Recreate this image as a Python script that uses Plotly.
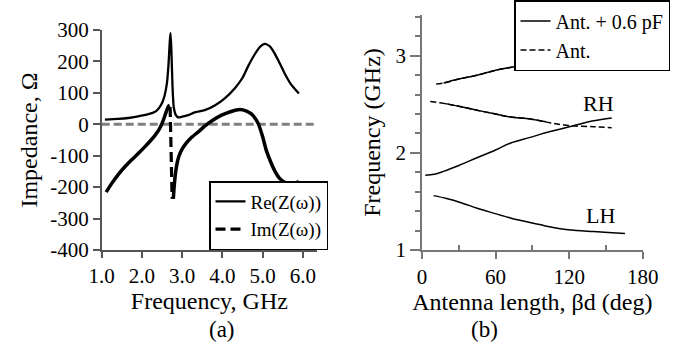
import plotly.graph_objects as go

# ---------------- Panel (a) data ----------------
re_freq = [1.08, 1.40, 1.66, 1.90, 2.16, 2.30, 2.40, 2.50, 2.56, 2.62, 2.66, 2.69, 2.71, 2.73,
           2.76, 2.79, 2.84, 2.90, 3.00, 3.15, 3.31, 3.56, 3.81, 4.05, 4.31, 4.50, 4.64, 4.80,
           4.93, 5.05, 5.18, 5.30, 5.42, 5.55, 5.70, 5.90]
re_z = [15, 17, 20, 25, 32, 38, 48, 68, 90, 130, 190, 260, 291, 240,
        120, 55, 30, 22, 24, 29, 38, 45, 60, 82, 115, 148, 185, 222,
        246, 256, 248, 225, 195, 161, 128, 98]

im_freq_left = [1.11, 1.25, 1.41, 1.57, 1.74, 1.90, 2.07, 2.20, 2.32, 2.42, 2.49, 2.55, 2.61, 2.66, 2.69]
im_z_left = [-216, -188, -160, -136, -114, -94, -72, -54, -36, -18, 0, 20, 42, 58, 60]

im_freq_jump = [2.70, 2.72, 2.75]
im_z_jump = [55, -100, -237]

im_freq_right = [2.78, 2.80, 2.83, 2.86, 2.91, 2.98, 3.10, 3.23, 3.40, 3.56, 3.75, 3.98, 4.20,
                 4.43, 4.60, 4.72, 4.82, 4.89, 5.00, 5.09, 5.20, 5.30, 5.42, 5.55, 5.68, 5.80, 5.90]
im_z_right = [-237, -200, -160, -133, -105, -83, -60, -42, -24, -6, 12, 29, 40,
              47, 42, 33, 18, 2, -40, -83, -120, -148, -172, -185, -189, -187, -182]

a_xticks = [1, 2, 3, 4, 5, 6]
a_xlabels = ["1.0", "2.0", "3.0", "4.0", "5.0", "6.0"]
a_yticks = [-400, -300, -200, -100, 0, 100, 200, 300]
a_ylabels = ["-400", "-300", "-200", "-100", "0", "100", "200", "300"]

# ---------------- Panel (b) data ----------------
ant_top_deg = [11.6, 17.6, 30, 44.8, 60, 71.9, 88.2, 104.5, 123.5, 140, 160]
ant_top_ghz = [2.71, 2.72, 2.76, 2.80, 2.85, 2.88, 2.92, 2.97, 3.00, 3.02, 3.03]
ant_desc_deg = [6.7, 17.6, 30, 44.8, 60, 71.9, 88.2, 104.5, 120.8, 140, 154.7]
ant_desc_ghz = [2.53, 2.51, 2.48, 2.44, 2.40, 2.37, 2.35, 2.31, 2.28, 2.27, 2.26]

cap_top_deg = [17.6, 30, 44.8, 60, 71.9, 88.2, 104.5, 118]
cap_top_ghz = [2.72, 2.76, 2.80, 2.85, 2.88, 2.92, 2.97, 2.99]
cap_desc_deg = [17.6, 30, 44.8, 60, 71.9, 88.2, 101]
cap_desc_ghz = [2.51, 2.48, 2.44, 2.40, 2.37, 2.35, 2.32]
rh_deg = [2.7, 10, 17.6, 30, 44.8, 60, 71.9, 88.2, 104.5, 123.5, 140, 154.7]
rh_ghz = [1.77, 1.78, 1.81, 1.87, 1.95, 2.03, 2.10, 2.16, 2.22, 2.28, 2.33, 2.36]
lh_deg = [9.5, 20, 31.2, 45, 58.3, 72, 85.5, 100, 112.6, 126, 139.7, 152, 165.5]
lh_ghz = [1.56, 1.53, 1.49, 1.43, 1.38, 1.33, 1.29, 1.25, 1.22, 1.20, 1.19, 1.18, 1.17]

FONT = "Liberation Serif"
W, H = 689, 351

fig = go.Figure()

# Panel (a)
fig.add_trace(go.Scatter(x=re_freq, y=re_z, mode="lines", name="Re(Z(ω))",
                         line=dict(color="black", width=2.3, shape="spline", smoothing=0.6),
                         xaxis="x", yaxis="y", legend="legend"))
fig.add_trace(go.Scatter(x=im_freq_jump, y=im_z_jump, mode="lines", name="Im(Z(ω))",
                         line=dict(color="black", width=3.2, dash="10px,5px"),
                         xaxis="x", yaxis="y", legend="legend"))
fig.add_trace(go.Scatter(x=im_freq_left, y=im_z_left, mode="lines", showlegend=False,
                         line=dict(color="black", width=3.5, shape="spline", smoothing=0.6),
                         xaxis="x", yaxis="y"))
fig.add_trace(go.Scatter(x=im_freq_right, y=im_z_right, mode="lines", showlegend=False,
                         line=dict(color="black", width=3.5, shape="spline", smoothing=0.6),
                         xaxis="x", yaxis="y"))

# Panel (b)
fig.add_trace(go.Scatter(x=ant_top_deg, y=ant_top_ghz, mode="lines", showlegend=False,
                         line=dict(color="black", width=1.5, dash="6px,3px", shape="spline"),
                         xaxis="x2", yaxis="y2", legendgroup="ant"))
fig.add_trace(go.Scatter(x=ant_desc_deg, y=ant_desc_ghz, mode="lines", showlegend=False,
                         line=dict(color="black", width=1.5, dash="6px,3px", shape="spline"),
                         xaxis="x2", yaxis="y2", legendgroup="ant"))
fig.add_trace(go.Scatter(x=rh_deg, y=rh_ghz, mode="lines", name="Ant. + 0.6 pF",
                         line=dict(color="black", width=1.5, shape="spline"),
                         xaxis="x2", yaxis="y2", legend="legend2", legendgroup="cap"))
fig.add_trace(go.Scatter(x=lh_deg, y=lh_ghz, mode="lines", showlegend=False,
                         line=dict(color="black", width=1.5, shape="spline"),
                         xaxis="x2", yaxis="y2", legendgroup="cap"))
fig.add_trace(go.Scatter(x=cap_top_deg, y=cap_top_ghz, mode="lines", showlegend=False,
                         line=dict(color="black", width=1.5, shape="spline"),
                         xaxis="x2", yaxis="y2", legendgroup="cap"))
fig.add_trace(go.Scatter(x=cap_desc_deg, y=cap_desc_ghz, mode="lines", showlegend=False,
                         line=dict(color="black", width=1.5, shape="spline"),
                         xaxis="x2", yaxis="y2", legendgroup="cap"))
fig.add_trace(go.Scatter(x=[None], y=[None], mode="lines", name="Ant.",
                         line=dict(color="black", width=1.5, dash="6px,3px"),
                         xaxis="x2", yaxis="y2", legend="legend2", legendgroup="ant"))

tickfont = dict(family=FONT, size=21, color="black")
titlefont = dict(family=FONT, size=24, color="black")
axcol_a = "#555555"
axcol_b = "#777777"

fig.update_layout(
    width=W, height=H,
    margin=dict(l=0, r=0, t=0, b=0, autoexpand=False),
    paper_bgcolor="white", plot_bgcolor="white",
    font=dict(family=FONT, color="black"),
    xaxis=dict(domain=[101.7 / W, 317 / W], range=[1.0, 6.35], tickvals=a_xticks, ticktext=a_xlabels,
               showline=True, linecolor=axcol_a, linewidth=1.5, ticks="outside", ticklen=6,
               tickcolor=axcol_a, tickwidth=1.5, showgrid=False, zeroline=False, tickfont=tickfont,
               automargin=False,
               title=dict(text="Frequency, GHz", font=titlefont, standoff=0), anchor="y"),
    yaxis=dict(domain=[1 - 250 / H, 1 - 30 / H], range=[-400, 300], tickvals=a_yticks, ticktext=a_ylabels,
               showline=True, linecolor=axcol_a, linewidth=1.5, ticks="outside", ticklen=7,
               tickcolor=axcol_a, tickwidth=1.5, showgrid=False, zeroline=False, tickfont=tickfont,
               automargin=False,
               title=dict(text="Impedance, Ω", font=titlefont, standoff=6), anchor="x"),
    xaxis2=dict(domain=[422 / W, 642.7 / W], range=[0, 180], tickvals=[0, 60, 120, 180],
                showline=True, linecolor=axcol_b, linewidth=1.5, ticks="outside", ticklen=7,
                tickcolor=axcol_b, tickwidth=1.5, showgrid=False, zeroline=False, tickfont=tickfont,
                automargin=False,
                minor=dict(tickvals=[30, 90, 150], ticks="inside", ticklen=5, tickcolor=axcol_b, tickwidth=1.5),
                title=dict(text="Antenna length, βd (deg)", font=titlefont, standoff=0), anchor="y2"),
    yaxis2=dict(domain=[1 - 250 / H, 1 - 15 / H], range=[1, 3.42], tickvals=[1, 2, 3],
                showline=True, linecolor=axcol_b, linewidth=1.5, ticks="outside", ticklen=10,
                tickcolor=axcol_b, tickwidth=1.5, showgrid=False, zeroline=False, tickfont=tickfont,
                automargin=False,
                minor=dict(dtick=0.2, ticks="outside", ticklen=5, tickcolor=axcol_b, tickwidth=1.5),
                title=dict(text="Frequency (GHz)", font=titlefont, standoff=8), anchor="x2"),
    legend=dict(x=328 / W, y=1 - 250 / H, xanchor="right", yanchor="bottom",
                bgcolor="white", bordercolor="black", borderwidth=1.5,
                font=dict(family=FONT, size=19, color="black"), tracegroupgap=0),
    legend2=dict(x=670 / W, y=1.0, xanchor="right", yanchor="top",
                 bgcolor="white", bordercolor="black", borderwidth=1.5,
                 font=dict(family=FONT, size=20, color="black"), tracegroupgap=0),
    annotations=[
        dict(text="(a)", x=207 / W, y=1 - 329 / H, xref="paper", yref="paper", showarrow=False,
             yanchor="middle", font=dict(family=FONT, size=23, color="black")),
        dict(text="(b)", x=500 / W, y=1 - 329 / H, xref="paper", yref="paper", showarrow=False,
             yanchor="middle", font=dict(family=FONT, size=23, color="black")),
        dict(text="RH", x=143.8, y=2.51, xref="x2", yref="y2", showarrow=False,
             font=dict(family=FONT, size=22, color="black")),
        dict(text="LH", x=145.2, y=1.36, xref="x2", yref="y2", showarrow=False,
             font=dict(family=FONT, size=22, color="black")),
    ],
    shapes=[dict(type="line", xref="x domain", yref="y", x0=0, x1=1, y0=0, y1=0,
                 line=dict(color="#808080", width=3, dash="8px,4px"), layer="below")],
)

fig.write_html("out.html", config={"displayModeBar": False},
               post_script="document.body.style.margin='0';document.body.style.padding='0';")
